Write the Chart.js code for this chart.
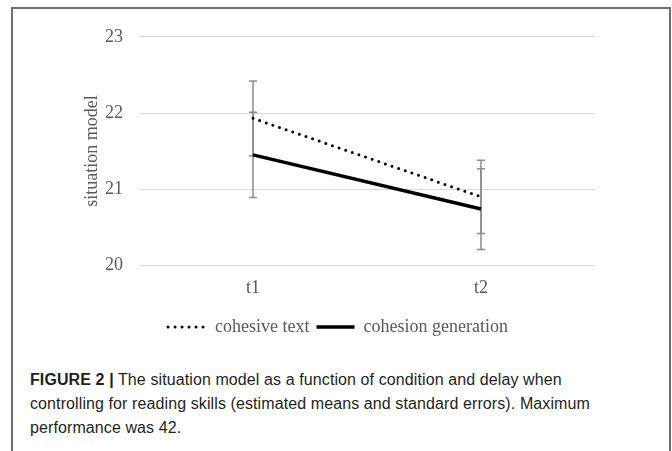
<!DOCTYPE html>
<html>
<head>
<meta charset="utf-8">
<script src="https://cdn.jsdelivr.net/npm/chart.js@4"></script>
<style>
  body { margin: 0; background: #fff; width: 672px; height: 451px; overflow: hidden; position: relative; }
  #frame { position: absolute; left: 11px; top: 7px; width: 656px; height: 470px; border: 2px solid #6e6e6e; border-bottom: none; }
  #box { position: absolute; left: 14px; top: 10px; width: 656px; height: 336px; }
  #caption { position: absolute; left: 30px; top: 368px; width: 640px; font-family: 'Liberation Sans', Arial, sans-serif; font-size: 16px; letter-spacing: 0.1px; line-height: 24px; color: #231f20; white-space: nowrap; }
  #caption b { font-weight: bold; }
</style>
</head>
<body>
<div id="frame"></div>
<div id="box"><canvas id="myChart"></canvas></div>
<div id="caption"><b>FIGURE 2 |</b> The situation model as a function of condition and delay when<br>controlling for reading skills (estimated means and standard errors). Maximum<br>performance was 42.</div>
<script>
const labels = ['t1', 't2'];
const cohesiveText = [21.93, 20.90];
const cohesiveTextErr = [0.49, 0.48];
const cohesionGeneration = [21.45, 20.74];
const cohesionGenerationErr = [0.56, 0.53];
const yTicks = [20, 21, 22, 23];

const serif = "'Liberation Serif', 'Times New Roman', serif";
const grey = '#595959';

// simple error bars drawn with the chart's own scales
const errorBars = {
    id: 'errorBars',
    beforeDatasetsDraw(chart) {
        const c = chart.ctx;
        const xs = chart.scales.x, ys = chart.scales.y;
        const errs = [cohesiveTextErr, cohesionGenerationErr];
        c.save();
        c.strokeStyle = '#8c8c8c';
        c.lineWidth = 1.5;
        chart.data.datasets.forEach((ds, i) => {
            ds.data.forEach((v, j) => {
                const x = xs.getPixelForValue(j);
                const top = ys.getPixelForValue(v + errs[i][j]);
                const bot = ys.getPixelForValue(v - errs[i][j]);
                c.beginPath();
                c.moveTo(x, top); c.lineTo(x, bot);
                c.moveTo(x - 4, top); c.lineTo(x + 4, top);
                c.moveTo(x - 4, bot); c.lineTo(x + 4, bot);
                c.stroke();
            });
        });
        c.restore();
    }
};

const ctx = document.getElementById('myChart').getContext('2d');
const myChart = new Chart(ctx, {
    type: 'line',
    data: {
        labels: labels,
        datasets: [{
            label: 'cohesive text',
            data: cohesiveText,
            borderColor: '#000',
            backgroundColor: '#000',
            borderWidth: 3,
            borderDash: [0, 7],
            borderCapStyle: 'round',
            pointRadius: 0,
            tension: 0
        }, {
            label: 'cohesion generation',
            data: cohesionGeneration,
            borderColor: '#000',
            backgroundColor: '#000',
            borderWidth: 3.5,
            pointRadius: 0,
            tension: 0
        }]
    },
    options: {
        responsive: true,
        maintainAspectRatio: false,
        animation: false,
        layout: {
            padding: { left: 67, right: 75, top: 9, bottom: 0 }
        },
        plugins: {
            tooltip: { enabled: false },
            legend: {
                position: 'bottom',
                labels: {
                    usePointStyle: true,
                    pointStyle: 'line',
                    pointStyleWidth: 38,
                    boxHeight: 10,
                    padding: 7,
                    color: grey,
                    font: { family: serif, size: 18 },
                    generateLabels: (chart) => chart.data.datasets.map((ds, i) => ({
                        text: ds.label,
                        datasetIndex: i,
                        fillStyle: '#000',
                        strokeStyle: '#000',
                        fontColor: grey,
                        lineWidth: ds.borderWidth,
                        lineDash: ds.borderDash || [],
                        lineCap: ds.borderCapStyle || 'butt',
                        pointStyle: 'line',
                        hidden: false
                    }))
                }
            }
        },
        scales: {
            x: {
                offset: true,
                grid: { display: false, drawTicks: false },
                border: { display: false },
                ticks: { color: grey, padding: 12, font: { family: serif, size: 18 } }
            },
            y: {
                min: 20,
                max: 23,
                afterBuildTicks: (axis) => { axis.ticks = yTicks.map(v => ({ value: v })); },
                afterFit: (axis) => { axis.width = 58; },
                grid: { color: '#d9d9d9', lineWidth: 1, drawTicks: false },
                border: { display: false },
                ticks: { color: grey, padding: 16, font: { family: serif, size: 18 } },
                title: {
                    display: true,
                    text: 'situation model',
                    color: grey,
                    padding: 0,
                    font: { family: serif, size: 18 }
                }
            }
        }
    },
    plugins: [errorBars]
});
</script>
</body>
</html>
